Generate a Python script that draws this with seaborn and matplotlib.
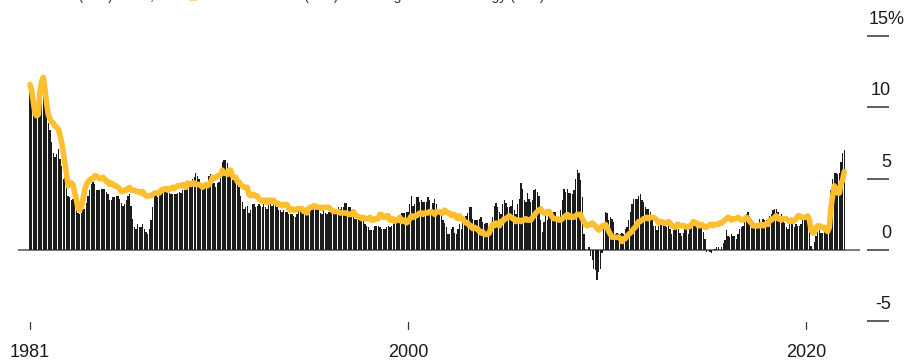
import numpy as np
import pandas as pd
import matplotlib
matplotlib.use("Agg")
import matplotlib.pyplot as plt
import seaborn as sns

# ---------------- data (monthly, Jan 1981 - Dec 2021) ----------------
start_year = 1981
cpi_yoy = [
    11.8, 11.4, 10.5, 10.0, 9.8, 9.6, 10.8, 10.8, 11.0, 10.1, 9.6, 8.9,   # 1981
    8.4, 7.6, 6.8, 6.5, 6.7, 7.1, 6.4, 5.9, 5.0, 5.1, 4.6, 3.8,           # 1982
    3.7, 3.5, 3.6, 3.9, 3.5, 2.6, 2.5, 2.6, 2.9, 2.9, 3.3, 3.8,           # 1983
    4.2, 4.6, 4.8, 4.6, 4.2, 4.2, 4.2, 4.3, 4.3, 4.3, 4.1, 3.9,           # 1984
    3.5, 3.5, 3.7, 3.7, 3.8, 3.8, 3.6, 3.3, 3.1, 3.2, 3.5, 3.8,           # 1985
    3.9, 3.1, 2.2, 1.6, 1.5, 1.8, 1.6, 1.6, 1.8, 1.5, 1.3, 1.1,           # 1986
    1.5, 2.1, 3.0, 3.8, 3.9, 3.7, 3.9, 4.3, 4.4, 4.5, 4.5, 4.4,           # 1987
    4.0, 3.9, 3.9, 3.9, 3.9, 4.0, 4.1, 4.0, 4.2, 4.2, 4.2, 4.4,           # 1988
    4.7, 4.8, 5.0, 5.1, 5.4, 5.2, 5.0, 4.7, 4.3, 4.5, 4.7, 4.6,           # 1989
    5.2, 5.3, 5.2, 4.7, 4.4, 4.7, 4.8, 5.6, 6.2, 6.3, 6.3, 6.1,           # 1990
    5.7, 5.3, 4.9, 4.9, 5.0, 4.7, 4.4, 3.8, 3.4, 2.9, 3.0, 3.1,           # 1991
    2.6, 2.8, 3.2, 3.2, 3.0, 3.1, 3.2, 3.1, 3.0, 3.2, 3.0, 2.9,           # 1992
    3.3, 3.2, 3.1, 3.2, 3.2, 3.0, 2.8, 2.8, 2.7, 2.8, 2.7, 2.7,           # 1993
    2.5, 2.5, 2.5, 2.4, 2.3, 2.5, 2.8, 2.9, 3.0, 2.6, 2.7, 2.7,           # 1994
    2.8, 2.9, 2.9, 3.1, 3.2, 3.0, 2.8, 2.6, 2.5, 2.8, 2.6, 2.5,           # 1995
    2.7, 2.7, 2.8, 2.9, 2.9, 2.8, 3.0, 2.9, 3.0, 3.0, 3.3, 3.3,           # 1996
    3.0, 3.0, 2.8, 2.5, 2.2, 2.3, 2.2, 2.2, 2.2, 2.1, 1.8, 1.7,           # 1997
    1.6, 1.4, 1.4, 1.4, 1.7, 1.7, 1.7, 1.6, 1.5, 1.5, 1.5, 1.6,           # 1998
    1.7, 1.6, 1.7, 2.3, 2.1, 2.0, 2.1, 2.3, 2.6, 2.6, 2.6, 2.7,           # 1999
    2.7, 3.2, 3.8, 3.1, 3.2, 3.7, 3.7, 3.4, 3.5, 3.4, 3.4, 3.4,           # 2000
    3.7, 3.5, 2.9, 3.3, 3.6, 3.2, 2.7, 2.7, 2.6, 2.1, 1.9, 1.6,           # 2001
    1.1, 1.1, 1.5, 1.6, 1.2, 1.1, 1.5, 1.8, 1.5, 2.0, 2.2, 2.4,           # 2002
    2.6, 3.0, 3.0, 2.2, 2.1, 2.1, 2.1, 2.2, 2.3, 2.0, 1.8, 1.9,           # 2003
    1.9, 1.7, 1.7, 2.3, 3.1, 3.3, 3.0, 2.7, 2.5, 3.2, 3.5, 3.3,           # 2004
    3.0, 3.0, 3.1, 3.5, 2.8, 2.5, 3.2, 3.6, 4.7, 4.3, 3.5, 3.4,           # 2005
    4.0, 3.6, 3.4, 3.5, 4.2, 4.3, 4.1, 3.8, 2.1, 1.3, 2.0, 2.5,           # 2006
    2.1, 2.4, 2.8, 2.6, 2.7, 2.7, 2.4, 2.0, 2.8, 3.5, 4.3, 4.1,           # 2007
    4.3, 4.0, 4.0, 3.9, 4.2, 5.0, 5.6, 5.4, 4.9, 3.7, 1.1, 0.1,           # 2008
    0.0, 0.2, -0.4, -0.7, -1.3, -1.4, -2.1, -1.5, -1.3, -0.2, 1.8, 2.7,   # 2009
    2.6, 2.1, 2.3, 2.2, 2.0, 1.1, 1.2, 1.1, 1.1, 1.2, 1.1, 1.5,           # 2010
    1.6, 2.1, 2.7, 3.2, 3.6, 3.6, 3.6, 3.8, 3.9, 3.5, 3.4, 3.0,           # 2011
    2.9, 2.9, 2.7, 2.3, 1.7, 1.7, 1.4, 1.7, 2.0, 2.2, 1.8, 1.7,           # 2012
    1.6, 2.0, 1.5, 1.1, 1.4, 1.8, 2.0, 1.5, 1.2, 1.0, 1.2, 1.5,           # 2013
    1.6, 1.1, 1.5, 2.0, 2.1, 2.1, 2.0, 1.7, 1.7, 1.7, 1.3, 0.8,           # 2014
    -0.1, 0.0, -0.1, -0.2, 0.0, 0.1, 0.2, 0.2, 0.0, 0.2, 0.5, 0.7,        # 2015
    1.4, 1.0, 0.9, 1.1, 1.0, 1.0, 0.8, 1.1, 1.5, 1.6, 1.7, 2.1,           # 2016
    2.5, 2.7, 2.4, 2.2, 1.9, 1.6, 1.7, 1.9, 2.2, 2.0, 2.2, 2.1,           # 2017
    2.1, 2.2, 2.4, 2.5, 2.8, 2.9, 2.9, 2.7, 2.3, 2.5, 2.2, 1.9,           # 2018
    1.6, 1.5, 1.9, 2.0, 1.8, 1.6, 1.8, 1.7, 1.7, 1.8, 2.1, 2.3,           # 2019
    2.5, 2.3, 1.5, 0.3, 0.1, 0.6, 1.0, 1.3, 1.4, 1.2, 1.2, 1.4,           # 2020
    1.4, 1.7, 2.6, 4.2, 5.0, 5.4, 5.4, 5.3, 5.4, 6.2, 6.8, 7.0,           # 2021
]
core_yoy = [
    11.6, 11.2, 10.4, 9.6, 9.4, 9.5, 11.1, 11.8, 12.1, 11.3, 10.3, 9.5,   # 1981
    9.2, 9.0, 8.9, 8.7, 8.6, 8.5, 8.1, 7.6, 6.9, 6.1, 5.3, 4.5,           # 1982
    4.7, 4.7, 4.6, 4.0, 3.5, 2.9, 2.8, 3.0, 3.6, 4.2, 4.6, 4.8,           # 1983
    4.9, 5.0, 5.0, 5.2, 5.2, 5.1, 5.0, 5.0, 5.1, 5.0, 4.8, 4.8,           # 1984
    4.6, 4.7, 4.6, 4.5, 4.5, 4.4, 4.3, 4.1, 4.1, 4.2, 4.2, 4.3,           # 1985
    4.4, 4.2, 4.2, 4.2, 4.1, 4.1, 4.1, 4.0, 4.1, 3.9, 3.8, 3.8,           # 1986
    3.8, 3.8, 3.9, 4.0, 4.0, 4.0, 4.0, 4.2, 4.2, 4.3, 4.3, 4.2,           # 1987
    4.3, 4.3, 4.4, 4.3, 4.4, 4.5, 4.5, 4.5, 4.6, 4.5, 4.4, 4.7,           # 1988
    4.6, 4.6, 4.7, 4.7, 4.6, 4.6, 4.6, 4.5, 4.4, 4.5, 4.6, 4.5,           # 1989
    4.6, 4.8, 5.1, 5.0, 5.1, 5.2, 5.2, 5.3, 5.6, 5.4, 5.4, 5.3,           # 1990
    5.6, 5.6, 5.2, 5.1, 5.1, 4.8, 4.8, 4.6, 4.5, 4.4, 4.4, 4.4,           # 1991
    3.9, 3.8, 3.9, 3.9, 3.8, 3.8, 3.6, 3.5, 3.4, 3.5, 3.5, 3.3,           # 1992
    3.5, 3.5, 3.4, 3.5, 3.3, 3.3, 3.2, 3.2, 3.1, 3.2, 3.2, 3.2,           # 1993
    2.9, 2.8, 2.9, 2.8, 2.8, 2.9, 2.9, 2.9, 2.9, 2.7, 2.8, 2.6,           # 1994
    2.9, 3.0, 3.0, 3.1, 3.1, 3.0, 3.0, 3.0, 2.9, 3.0, 3.0, 3.0,           # 1995
    3.0, 2.9, 2.8, 2.7, 2.7, 2.7, 2.7, 2.6, 2.6, 2.6, 2.6, 2.6,           # 1996
    2.5, 2.5, 2.5, 2.7, 2.5, 2.4, 2.3, 2.3, 2.2, 2.3, 2.2, 2.2,           # 1997
    2.2, 2.3, 2.1, 2.1, 2.2, 2.2, 2.2, 2.5, 2.5, 2.3, 2.3, 2.4,           # 1998
    2.4, 2.1, 2.1, 2.2, 2.0, 2.1, 2.1, 2.3, 2.0, 2.1, 2.1, 1.9,           # 1999
    2.0, 2.2, 2.4, 2.3, 2.4, 2.4, 2.5, 2.6, 2.6, 2.5, 2.6, 2.6,           # 2000
    2.6, 2.7, 2.7, 2.6, 2.5, 2.7, 2.7, 2.7, 2.6, 2.6, 2.8, 2.7,           # 2001
    2.6, 2.6, 2.4, 2.5, 2.5, 2.3, 2.2, 2.4, 2.2, 2.2, 2.0, 1.9,           # 2002
    1.9, 1.7, 1.7, 1.5, 1.6, 1.5, 1.5, 1.3, 1.2, 1.3, 1.1, 1.1,           # 2003
    1.1, 1.2, 1.6, 1.8, 1.7, 1.9, 1.8, 1.7, 2.0, 2.0, 2.2, 2.2,           # 2004
    2.3, 2.4, 2.3, 2.2, 2.2, 2.0, 2.1, 2.1, 2.0, 2.1, 2.1, 2.2,           # 2005
    2.1, 2.1, 2.1, 2.3, 2.4, 2.6, 2.7, 2.8, 2.9, 2.7, 2.6, 2.6,           # 2006
    2.7, 2.7, 2.5, 2.3, 2.2, 2.2, 2.2, 2.1, 2.1, 2.2, 2.3, 2.4,           # 2007
    2.5, 2.3, 2.4, 2.3, 2.3, 2.4, 2.5, 2.5, 2.5, 2.2, 2.0, 1.8,           # 2008
    1.7, 1.8, 1.8, 1.9, 1.8, 1.7, 1.5, 1.4, 1.5, 1.7, 1.7, 1.8,           # 2009
    1.6, 1.3, 1.1, 0.9, 0.9, 0.9, 0.9, 0.9, 0.8, 0.6, 0.8, 0.8,           # 2010
    1.0, 1.1, 1.2, 1.3, 1.5, 1.6, 1.8, 2.0, 2.0, 2.1, 2.2, 2.2,           # 2011
    2.3, 2.2, 2.3, 2.3, 2.3, 2.2, 2.1, 1.9, 2.0, 2.0, 1.9, 1.9,           # 2012
    1.9, 2.0, 1.9, 1.7, 1.7, 1.6, 1.7, 1.8, 1.7, 1.7, 1.7, 1.7,           # 2013
    1.6, 1.6, 1.7, 1.8, 2.0, 1.9, 1.9, 1.7, 1.7, 1.8, 1.7, 1.6,           # 2014
    1.6, 1.7, 1.8, 1.8, 1.7, 1.8, 1.8, 1.8, 1.9, 1.9, 2.0, 2.1,           # 2015
    2.2, 2.3, 2.2, 2.1, 2.2, 2.2, 2.2, 2.3, 2.2, 2.1, 2.1, 2.2,           # 2016
    2.3, 2.2, 2.0, 1.9, 1.7, 1.7, 1.7, 1.7, 1.7, 1.8, 1.7, 1.8,           # 2017
    1.8, 1.8, 2.1, 2.1, 2.2, 2.3, 2.4, 2.2, 2.2, 2.1, 2.2, 2.2,           # 2018
    2.2, 2.1, 2.0, 2.1, 2.0, 2.1, 2.2, 2.4, 2.4, 2.3, 2.3, 2.3,           # 2019
    2.3, 2.4, 2.1, 1.4, 1.2, 1.2, 1.6, 1.7, 1.7, 1.6, 1.6, 1.6,           # 2020
    1.4, 1.3, 1.6, 3.0, 3.8, 4.5, 4.3, 4.0, 4.0, 4.6, 4.9, 5.5,           # 2021
]
xtick_years = [1981, 2000, 2020]
xtick_labels = ["1981", "2000", "2020"]
ytick_values = [15, 10, 5, 0, -5]
ytick_labels = ["15%", "10", "5", "0", "-5"]

# ---------------- style ----------------
sns.set_style("white")
plt.rcParams["font.family"] = ["Liberation Sans", "DejaVu Sans"]

BAR_COLOR = "#1c1c1c"
LINE_COLOR = "#FDBF2D"
TEXT_COLOR = "#1a1a1a"

W, H = 912, 362
fig = plt.figure(figsize=(W / 100, H / 100), dpi=100)
ax = fig.add_axes([0, 0, 1, 1])

n = len(cpi_yoy)
t = start_year + np.arange(n) / 12.0
df = pd.DataFrame({"t": t, "cpi": cpi_yoy, "core": core_yoy})

sns.barplot(data=df, x="t", y="cpi", native_scale=True, color=BAR_COLOR,
            saturation=1, width=0.8, errorbar=None, linewidth=0, ax=ax, zorder=2)

# zero baseline
ax.plot([18 / W, 860 / W], [0, 0], transform=ax.get_yaxis_transform(),
        color="#7a7a7a", lw=1.4, zorder=1, solid_capstyle="butt")

sns.lineplot(data=df, x="t", y="core", color=LINE_COLOR, linewidth=4.0,
             estimator=None, ax=ax, zorder=3,
             solid_joinstyle="round", solid_capstyle="round")

# pixel-accurate limits
px_per_year = 19.9
x0 = 1981 - 30 / px_per_year
ax.set_xlim(x0, x0 + W / px_per_year)
px_per_unit = 14.275
ax.set_ylim(-(H - 250.1) / px_per_unit, 250.1 / px_per_unit)
ax.set_axis_off()

# right-hand value labels with dashes below
ytr = ax.get_yaxis_transform()
for v, lab in zip(ytick_values, ytick_labels):
    ax.plot([867 / W, 889 / W], [v, v], transform=ytr, color="#333333",
            lw=1.1, solid_capstyle="butt", clip_on=False)
    if lab.endswith("%"):
        ax.text(869 / W, v + 0.85, lab, transform=ytr, ha="left", va="baseline",
                fontsize=13, color=TEXT_COLOR)
    else:
        ax.text(891 / W, v + 0.85, lab, transform=ytr, ha="right", va="baseline",
                fontsize=13, color=TEXT_COLOR)

# bottom year ticks and labels
xtr = ax.get_xaxis_transform()
for yr, lab in zip(xtick_years, xtick_labels):
    ax.plot([yr, yr], [1 - 322 / H, 1 - 329 / H], transform=xtr,
            color="#333333", lw=0.9, clip_on=False)
    ax.text(yr, 1 - 357 / H, lab, transform=xtr, ha="center", va="baseline",
            fontsize=13, color=TEXT_COLOR)

# legend line, cropped off at the top edge (only descenders visible)
fig.text(22 / W, 1.0, "All items (YoY) index,", ha="left", va="baseline",
         fontsize=10, color="#333333")
fig.patches.append(plt.Rectangle((189 / W, 1 - 0.6 / H), 8 / W, 10 / H,
                                 transform=fig.transFigure, color=LINE_COLOR,
                                 alpha=0.6, linewidth=0))
fig.text(243 / W, 1.0, "Core CPI (YoY) excluding food and energy (YoY)",
         ha="left", va="baseline", fontsize=10, color="#333333")

fig.savefig("out.png", dpi=100)
